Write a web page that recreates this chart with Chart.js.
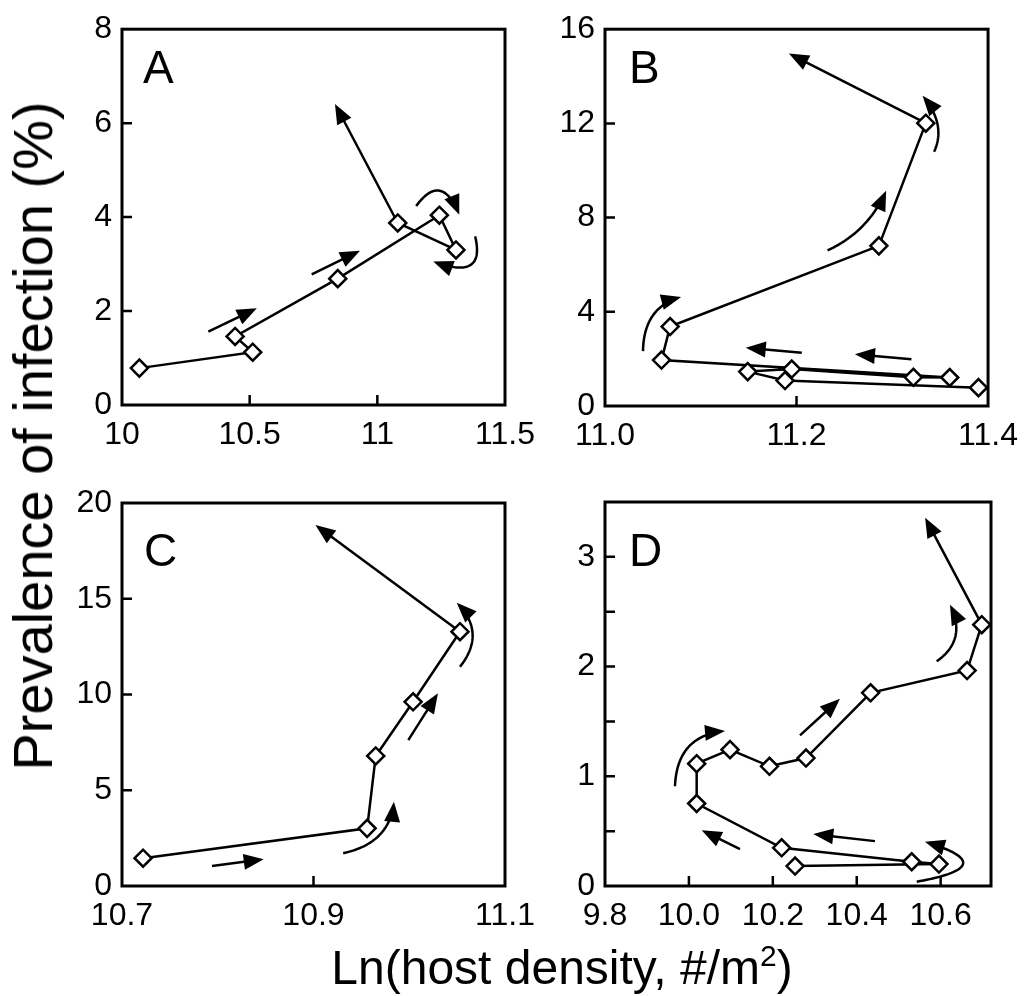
<!DOCTYPE html>
<html>
<head>
<meta charset="utf-8">
<script src="https://cdn.jsdelivr.net/npm/chart.js@4.4.1/dist/chart.umd.min.js"></script>
<style>
  html, body { margin: 0; padding: 0; background: #fff; }
  #page { position: relative; width: 1029px; height: 996px; overflow: hidden; font-family: 'Liberation Sans', Arial, sans-serif; color: #000; }
  #page canvas { position: absolute; left: 0; top: 0; }
  .letter { position: absolute; font-size: 46px; line-height: 1; }
  #ytitle { position: absolute; left: 33px; top: 436px; font-size: 56px; line-height: 1; white-space: nowrap; transform: translate(-50%, -50%) rotate(-90deg); }
  #xtitle { position: absolute; left: 562px; top: 968px; font-size: 48px; line-height: 1; white-space: nowrap; transform: translate(-50%, -50%); }
  #xtitle sup { font-size: 30px; line-height: 0; vertical-align: 18px; }
</style>
</head>
<body>
<div id="page">
  <canvas id="chartA" width="1029" height="996"></canvas>
  <canvas id="chartB" width="1029" height="996"></canvas>
  <canvas id="chartC" width="1029" height="996"></canvas>
  <canvas id="chartD" width="1029" height="996"></canvas>
  <div class="letter" style="left:143px; top:44px;">A</div>
  <div class="letter" style="left:629px; top:44px;">B</div>
  <div class="letter" style="left:144px; top:527px;">C</div>
  <div class="letter" style="left:629px; top:527px;">D</div>
  <div id="ytitle">Prevalence of infection (%)</div>
  <div id="xtitle">Ln(host density, #/m<sup>2</sup>)</div>
</div>
<script>
// panel A
const aX = [10.068, 10.512, 10.443, 10.845, 11.243, 11.308, 11.080];
const aY = [0.785, 1.125, 1.46, 2.69, 4.04, 3.30, 3.875];
const aTail = [10.834, 6.41];
const aArrows = [[10.338, 1.56, 10.528, 2.06], [10.743, 2.78, 10.932, 3.285]];
const aCurves = [[11.152, 4.235, 11.252, 4.98, 11.321, 4.05], [11.383, 3.59, 11.426, 2.63, 11.219, 3.056]];
const aXTicks = [10, 10.5, 11, 11.5];
const aYTicks = [0, 2, 4, 6, 8];

// panel B
const bX = [11.390, 11.188, 11.149, 11.195, 11.322, 11.360, 11.059, 11.068, 11.286, 11.335];
const bY = [0.78, 1.08, 1.46, 1.57, 1.22, 1.21, 1.95, 3.375, 6.80, 12.01];
const bTail = [11.192, 14.97];
const bArrows = [[11.2055, 2.26, 11.147, 2.47], [11.320, 1.99, 11.261, 2.20]];
const bCurves = [[11.0397, 2.33, 11.0404, 4.21, 11.0795, 4.625], [11.2324, 6.61, 11.2744, 7.38, 11.2936, 9.14], [11.3437, 10.80, 11.3567, 11.96, 11.3316, 13.17]];
const bXTicks = [11.0, 11.2, 11.4];
const bYTicks = [0, 4, 8, 12, 16];

// panel C
const cX = [10.722, 10.956, 10.965, 11.004, 11.053];
const cY = [1.45, 3.01, 6.79, 9.62, 13.28];
const cTail = [10.902, 18.85];
const cArrows = [[10.794, 1.044, 10.848, 1.394], [10.999, 7.62, 11.030, 10.06]];
const cCurves = [[10.931, 1.71, 10.98, 2.25, 10.984, 4.40], [11.053, 11.45, 11.081, 13.22, 11.0496, 14.79]];
const cXTicks = [10.7, 10.9, 11.1];
const cYTicks = [0, 5, 10, 15, 20];

// panel D
const dX = [10.253, 10.596, 10.531, 10.221, 10.0185, 10.0185, 10.098, 10.192, 10.279, 10.433, 10.663, 10.698];
const dY = [0.182, 0.20, 0.221, 0.348, 0.752, 1.115, 1.243, 1.091, 1.166, 1.761, 1.964, 2.382];
const dTail = [10.563, 3.357];
const dArrows = [[10.4435, 0.409, 10.2964, 0.473], [10.1217, 0.336, 10.0305, 0.509], [10.2647, 1.373, 10.36, 1.706]];
const dCurves = [[10.543, 0.039, 10.754, 0.184, 10.5626, 0.403], [9.9668, 0.909, 9.9716, 1.373, 10.086, 1.412], [10.5905, 2.048, 10.6639, 2.245, 10.6222, 2.564]];
const dXTicks = [9.8, 10.0, 10.2, 10.4, 10.6];
const dYTicks = [0, 0.5, 1, 1.5, 2, 2.5, 3];

const PAGE_W = 1029, PAGE_H = 996;
const Y_AXIS_W = 80, X_AXIS_H = 60;
const FONT = "'Liberation Sans', Arial, sans-serif";
const HEAD_LEN = 20, HEAD_W = 8;

function arrowHead(ctx, x0, y0, x1, y1) {
  const a = Math.atan2(y1 - y0, x1 - x0);
  const c = Math.cos(a), s = Math.sin(a);
  ctx.beginPath();
  ctx.moveTo(x1, y1);
  ctx.lineTo(x1 - HEAD_LEN * c + HEAD_W * s, y1 - HEAD_LEN * s - HEAD_W * c);
  ctx.lineTo(x1 - HEAD_LEN * c - HEAD_W * s, y1 - HEAD_LEN * s + HEAD_W * c);
  ctx.closePath();
  ctx.fill();
}

function straightArrow(ctx, x0, y0, x1, y1) {
  const d = Math.hypot(x1 - x0, y1 - y0);
  const k = (d - HEAD_LEN * 0.7) / d;
  ctx.beginPath();
  ctx.moveTo(x0, y0);
  ctx.lineTo(x0 + (x1 - x0) * k, y0 + (y1 - y0) * k);
  ctx.stroke();
  arrowHead(ctx, x0, y0, x1, y1);
}

function curvedArrow(ctx, x0, y0, cx, cy, x1, y1) {
  const pt = t => [
    (1 - t) * (1 - t) * x0 + 2 * t * (1 - t) * cx + t * t * x1,
    (1 - t) * (1 - t) * y0 + 2 * t * (1 - t) * cy + t * t * y1
  ];
  ctx.beginPath();
  ctx.moveTo(x0, y0);
  for (let t = 0.02; t <= 1; t += 0.02) {
    const [px, py] = pt(t);
    if (Math.hypot(x1 - px, y1 - py) < HEAD_LEN * 0.7) break;
    ctx.lineTo(px, py);
  }
  ctx.stroke();
  arrowHead(ctx, cx, cy, x1, y1);
}

const panelDecor = {
  id: 'panelDecor',
  beforeDatasetsDraw(chart, args, opts) {
    const { ctx, scales: { x, y } } = chart;
    const px = v => x.getPixelForValue(v);
    const py = v => y.getPixelForValue(v);
    ctx.save();
    ctx.strokeStyle = '#000';
    ctx.fillStyle = '#000';
    ctx.lineWidth = 2.5;
    const pts = chart.data.datasets[0].data;
    const last = pts[pts.length - 1];
    if (opts.tail) straightArrow(ctx, px(last.x), py(last.y), px(opts.tail[0]), py(opts.tail[1]));
    (opts.arrows || []).forEach(a => straightArrow(ctx, px(a[0]), py(a[1]), px(a[2]), py(a[3])));
    (opts.curves || []).forEach(c => curvedArrow(ctx, px(c[0]), py(c[1]), px(c[2]), py(c[3]), px(c[4]), py(c[5])));
    ctx.restore();
  },
  afterDraw(chart) {
    const { ctx, chartArea: { left, right, top, bottom }, scales: { x, y } } = chart;
    ctx.save();
    ctx.strokeStyle = '#000';
    ctx.lineWidth = 3;
    ctx.strokeRect(left, top, right - left, bottom - top);
    ctx.lineWidth = 2.5;
    ctx.beginPath();
    x.ticks.forEach(t => {
      const p = x.getPixelForValue(t.value);
      if (p > left + 3 && p < right - 3) { ctx.moveTo(p, bottom); ctx.lineTo(p, bottom - 10); }
    });
    y.ticks.forEach(t => {
      const p = y.getPixelForValue(t.value);
      if (p > top + 3 && p < bottom - 3) { ctx.moveTo(left, p); ctx.lineTo(left + 10, p); }
    });
    ctx.stroke();
    ctx.restore();
  }
};

function panel(id, o) {
  const [L, R, T, B] = o.box;
  return new Chart(document.getElementById(id), {
    type: 'scatter',
    data: {
      datasets: [{
        data: o.xs.map((x, i) => ({ x, y: o.ys[i] })),
        showLine: true,
        borderColor: '#000',
        borderWidth: 2.5,
        pointStyle: 'rectRot',
        pointRadius: 8.5,
        pointHoverRadius: 8.5,
        pointBackgroundColor: '#fff',
        pointBorderColor: '#000',
        pointBorderWidth: 2.5,
        clip: false
      }]
    },
    options: {
      responsive: false,
      animation: false,
      devicePixelRatio: 1,
      events: [],
      layout: { padding: { left: L - Y_AXIS_W, right: PAGE_W - R, top: T, bottom: PAGE_H - B - X_AXIS_H } },
      plugins: {
        legend: { display: false },
        tooltip: { enabled: false },
        panelDecor: { tail: o.tail, arrows: o.arrows, curves: o.curves }
      },
      scales: {
        x: {
          type: 'linear',
          min: o.xTicks[0],
          max: o.xMax,
          grid: { display: false, drawTicks: false },
          border: { display: false },
          afterFit: s => { s.height = X_AXIS_H; },
          afterBuildTicks: s => { s.ticks = o.xTicks.map(v => ({ value: v })); },
          ticks: { color: '#000', font: { family: FONT, size: 32 }, padding: 11, maxRotation: 0, autoSkip: false, callback: o.xFmt }
        },
        y: {
          type: 'linear',
          min: 0,
          max: o.yMax,
          grid: { display: false, drawTicks: false },
          border: { display: false },
          afterFit: s => { s.width = Y_AXIS_W; },
          afterBuildTicks: s => { s.ticks = o.yTicks.map(v => ({ value: v })); },
          ticks: { color: '#000', font: { family: FONT, size: 32 }, padding: 10, autoSkip: false, callback: v => Number.isInteger(v) ? String(v) : '' }
        }
      }
    },
    plugins: [panelDecor]
  });
}

const fixed1 = v => v.toFixed(1);

panel('chartA', { box: [122, 505, 21, 405], xs: aX, ys: aY, tail: aTail, arrows: aArrows, curves: aCurves,
  xTicks: aXTicks, xMax: 11.5, xFmt: v => String(v), yTicks: aYTicks, yMax: 8 });
panel('chartB', { box: [605, 991, 22, 406], xs: bX, ys: bY, tail: bTail, arrows: bArrows, curves: bCurves,
  xTicks: bXTicks, xMax: 11.4, xFmt: fixed1, yTicks: bYTicks, yMax: 16 });
panel('chartC', { box: [122, 505, 503, 886], xs: cX, ys: cY, tail: cTail, arrows: cArrows, curves: cCurves,
  xTicks: cXTicks, xMax: 11.1, xFmt: fixed1, yTicks: cYTicks, yMax: 20 });
panel('chartD', { box: [605, 991, 502, 886], xs: dX, ys: dY, tail: dTail, arrows: dArrows, curves: dCurves,
  xTicks: dXTicks, xMax: 10.72, xFmt: fixed1, yTicks: dYTicks, yMax: 3.5 });
</script>
</body>
</html>
